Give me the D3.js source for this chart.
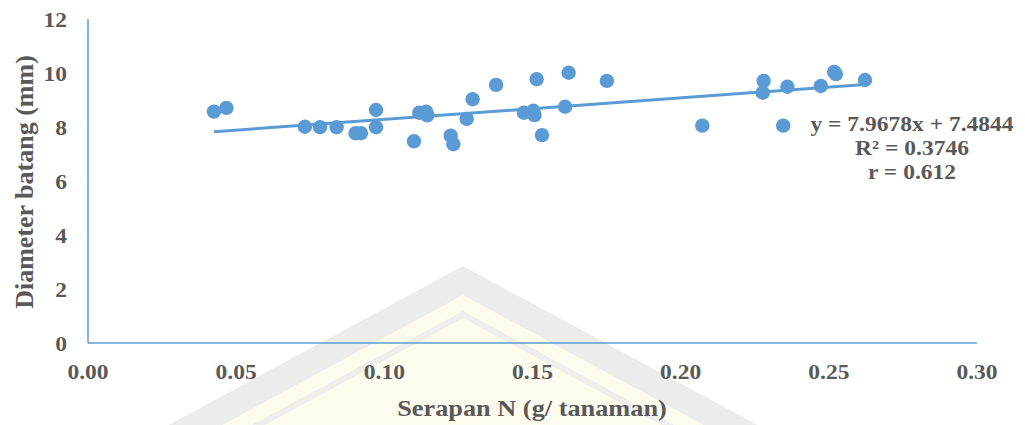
<!DOCTYPE html>
<html>
<head>
<meta charset="utf-8">
<script src="https://cdn.jsdelivr.net/npm/d3@7"></script>
<style>
  html, body { margin: 0; padding: 0; background: #ffffff; }
  svg { display: block; }
  text { font-family: "Liberation Serif", "Times New Roman", serif; font-weight: bold; fill: #595959; }
</style>
</head>
<body>
<svg id="chart" width="1025" height="425"></svg>
<script>
// ---- data ----
const serapanN = [0.0425, 0.0467, 0.0732, 0.0783, 0.0839, 0.0903, 0.0921, 0.0972, 0.0972, 0.1100,
                  0.1118, 0.1141, 0.1145, 0.1224, 0.1233, 0.1278, 0.1298, 0.1377, 0.1471, 0.1503,
                  0.1507, 0.1514, 0.1532, 0.1610, 0.1622, 0.1751, 0.2073, 0.2280, 0.2277, 0.2346,
                  0.2360, 0.2473, 0.2518, 0.2524, 0.2622];
const diameter  = [8.57, 8.71, 8.01, 7.99, 7.99, 7.77, 7.77, 8.63, 7.99, 7.47,
                   8.53, 8.57, 8.43, 7.68, 7.36, 8.30, 9.03, 9.56, 8.53, 8.60,
                   8.44, 9.77, 7.70, 8.75, 10.01, 9.71, 8.05, 9.71, 9.27, 8.05,
                   9.49, 9.52, 10.04, 9.96, 9.74];
const xTicks = [0.00, 0.05, 0.10, 0.15, 0.20, 0.25, 0.30];
const yTicks = [0, 2, 4, 6, 8, 10, 12];
const slope = 7.9678, intercept = 7.4844;
const eqLines = ["y = 7.9678x + 7.4844", "R² = 0.3746", "r = 0.612"];
const xTitle = "Serapan N (g/ tanaman)";
const yTitle = "Diameter batang (mm)";

// ---- layout ----
const svg = d3.select("#chart");
const x = d3.scaleLinear().domain([0, 0.30]).range([88, 977]);
const y = d3.scaleLinear().domain([0, 12]).range([343, 19]);
const blue = "#5B9BD5";
const sx = 1.12; // horizontal stretch of the original picture

// ---- watermark (decorative background) ----
const wm = svg.append("g");
const apexX = 463, k = 0.54, bottom = 520;
function chevron(apexY, fill) {
  const dx = (bottom - apexY) / k;
  wm.append("polygon")
    .attr("points", [[apexX, apexY], [apexX - dx, bottom], [apexX + dx, bottom]].map(p => p.join(",")).join(" "))
    .attr("fill", fill);
}
chevron(266, "#ececec");
chevron(295, "#fdfbee");
chevron(311, "#eeeeea");
chevron(318, "#fdfbee");

// ---- axes lines ----
svg.append("line").attr("x1", x(0)).attr("x2", x(0)).attr("y1", y(12)).attr("y2", y(0))
  .attr("stroke", blue).attr("stroke-width", 1.5);
svg.append("line").attr("x1", x(0)).attr("x2", x(0.30)).attr("y1", y(0)).attr("y2", y(0))
  .attr("stroke", blue).attr("stroke-width", 1.5);

// ---- tick labels ----
svg.append("g").selectAll("text").data(yTicks).join("text")
  .attr("transform", d => `translate(67,${y(d) + 7.5}) scale(${sx},1)`)
  .attr("text-anchor", "end").style("font-size", "21px")
  .text(d => d3.format("d")(d));
svg.append("g").selectAll("text").data(xTicks).join("text")
  .attr("transform", d => `translate(${x(d)},379) scale(${sx},1)`)
  .attr("text-anchor", "middle").style("font-size", "21px")
  .text(d => d3.format(".2f")(d));

// ---- axis titles ----
svg.append("text")
  .attr("transform", `translate(532,416) scale(${sx},1)`)
  .attr("text-anchor", "middle").style("font-size", "23.5px")
  .text(xTitle);
svg.append("text")
  .attr("transform", `translate(33,182) rotate(-90)`)
  .attr("text-anchor", "middle").style("font-size", "26px")
  .text(yTitle);

// ---- trendline ----
const xExt = d3.extent(serapanN);
svg.append("line")
  .attr("x1", x(xExt[0])).attr("y1", y(slope * xExt[0] + intercept))
  .attr("x2", x(xExt[1])).attr("y2", y(slope * xExt[1] + intercept))
  .attr("stroke", blue).attr("stroke-width", 3);

// ---- points ----
svg.append("g").selectAll("circle").data(serapanN.map((v, i) => [v, diameter[i]])).join("circle")
  .attr("cx", d => x(d[0])).attr("cy", d => y(d[1])).attr("r", 7.2)
  .attr("fill", blue);

// ---- equation ----
svg.append("g").selectAll("text").data(eqLines).join("text")
  .attr("transform", (d, i) => `translate(912,${131 + i * 24}) scale(${sx},1)`)
  .attr("text-anchor", "middle").style("font-size", "21px")
  .text(d => d);
</script>
</body>
</html>
